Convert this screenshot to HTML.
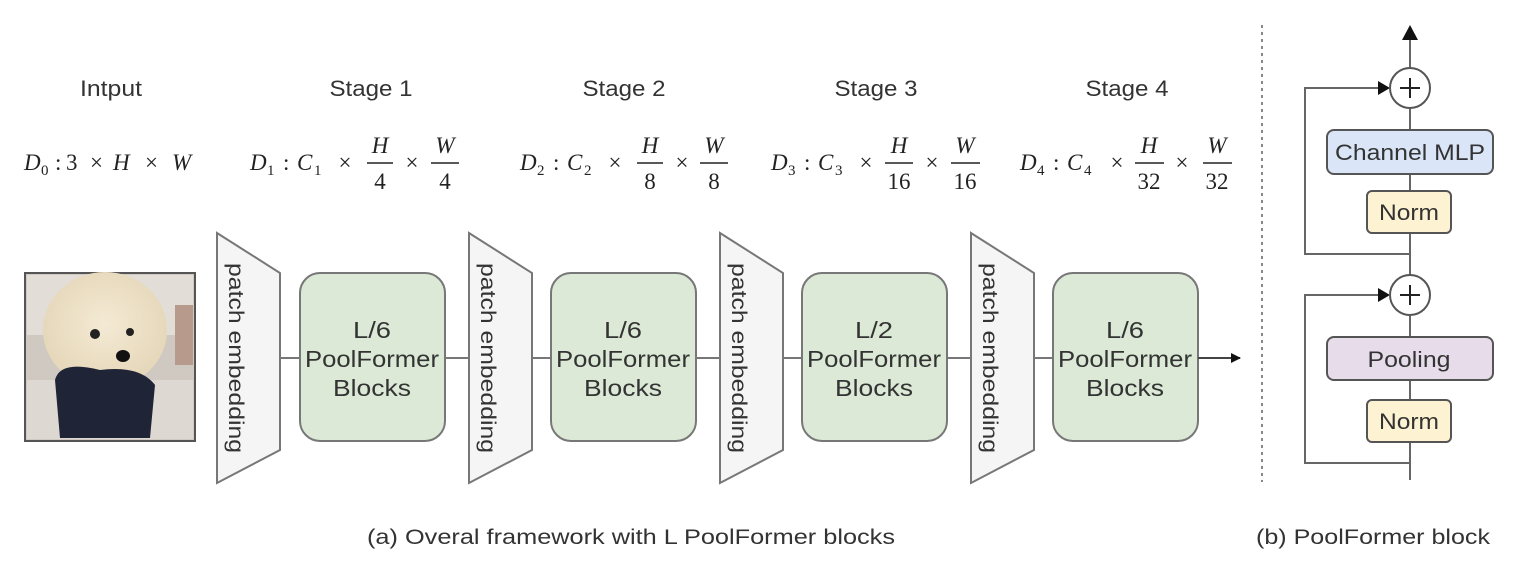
<!DOCTYPE html>
<html><head><meta charset="utf-8"><style>
html,body{margin:0;padding:0;background:#fff;}
svg{display:block;}
.t{font-family:"Liberation Sans",sans-serif;fill:#333;}
.m{font-family:"Liberation Serif",serif;fill:#222;font-size:23px;}
.s{font-size:15px;}
</style></head><body>
<svg width="1531" height="571" viewBox="0 0 1531 571" xmlns="http://www.w3.org/2000/svg">
<defs>
<marker id="ah" markerWidth="10" markerHeight="10" refX="9" refY="5" orient="auto" markerUnits="userSpaceOnUse"><path d="M0,0 L10,5 L0,10 z" fill="#111"/></marker>
<radialGradient id="fur" cx="0.5" cy="0.45" r="0.5"><stop offset="0" stop-color="#f4ead4"/><stop offset="1" stop-color="#e6d8bb"/></radialGradient>
</defs>
<g class="t" font-size="22" text-anchor="middle">
<text x="111" y="96" textLength="62" lengthAdjust="spacingAndGlyphs">Intput</text>
<text x="371" y="96" textLength="83" lengthAdjust="spacingAndGlyphs">Stage 1</text>
<text x="624" y="96" textLength="83" lengthAdjust="spacingAndGlyphs">Stage 2</text>
<text x="876" y="96" textLength="83" lengthAdjust="spacingAndGlyphs">Stage 3</text>
<text x="1127" y="96" textLength="83" lengthAdjust="spacingAndGlyphs">Stage 4</text>
</g>
<g>
<text class="m" x="24" y="170" font-style="italic">D</text><text class="m s" x="41" y="175">0</text>
<text class="m" x="55" y="170">:</text>
<text class="m" x="66" y="170">3</text>
<text class="m" x="90" y="170">×</text>
<text class="m" x="113" y="170" font-style="italic">H</text>
<text class="m" x="145" y="170">×</text>
<text class="m" x="172" y="170" font-style="italic">W</text>
</g>
<g>
<text class="m" x="250" y="170" font-style="italic">D</text><text class="m s" x="267" y="175">1</text>
<text class="m" x="283" y="170">:</text>
<text class="m" x="297" y="170" font-style="italic">C</text><text class="m s" x="314" y="175">1</text>
<text class="m" x="345" y="170" text-anchor="middle">×</text>
<text class="m" x="380" y="153" text-anchor="middle" font-style="italic">H</text><line x1="367" y1="163" x2="393" y2="163" stroke="#222" stroke-width="1.5"/><text class="m" x="380" y="189" text-anchor="middle">4</text>
<text class="m" x="412" y="170" text-anchor="middle">×</text>
<text class="m" x="445" y="153" text-anchor="middle" font-style="italic">W</text><line x1="431" y1="163" x2="459" y2="163" stroke="#222" stroke-width="1.5"/><text class="m" x="445" y="189" text-anchor="middle">4</text>
</g>
<g>
<text class="m" x="520" y="170" font-style="italic">D</text><text class="m s" x="537" y="175">2</text>
<text class="m" x="553" y="170">:</text>
<text class="m" x="567" y="170" font-style="italic">C</text><text class="m s" x="584" y="175">2</text>
<text class="m" x="615" y="170" text-anchor="middle">×</text>
<text class="m" x="650" y="153" text-anchor="middle" font-style="italic">H</text><line x1="637" y1="163" x2="663" y2="163" stroke="#222" stroke-width="1.5"/><text class="m" x="650" y="189" text-anchor="middle">8</text>
<text class="m" x="682" y="170" text-anchor="middle">×</text>
<text class="m" x="714" y="153" text-anchor="middle" font-style="italic">W</text><line x1="700" y1="163" x2="728" y2="163" stroke="#222" stroke-width="1.5"/><text class="m" x="714" y="189" text-anchor="middle">8</text>
</g>
<g>
<text class="m" x="771" y="170" font-style="italic">D</text><text class="m s" x="788" y="175">3</text>
<text class="m" x="804" y="170">:</text>
<text class="m" x="818" y="170" font-style="italic">C</text><text class="m s" x="835" y="175">3</text>
<text class="m" x="866" y="170" text-anchor="middle">×</text>
<text class="m" x="899" y="153" text-anchor="middle" font-style="italic">H</text><line x1="885" y1="163" x2="913" y2="163" stroke="#222" stroke-width="1.5"/><text class="m" x="899" y="189" text-anchor="middle">16</text>
<text class="m" x="932" y="170" text-anchor="middle">×</text>
<text class="m" x="965" y="153" text-anchor="middle" font-style="italic">W</text><line x1="951" y1="163" x2="980" y2="163" stroke="#222" stroke-width="1.5"/><text class="m" x="965" y="189" text-anchor="middle">16</text>
</g>
<g>
<text class="m" x="1020" y="170" font-style="italic">D</text><text class="m s" x="1037" y="175">4</text>
<text class="m" x="1053" y="170">:</text>
<text class="m" x="1067" y="170" font-style="italic">C</text><text class="m s" x="1084" y="175">4</text>
<text class="m" x="1117" y="170" text-anchor="middle">×</text>
<text class="m" x="1149" y="153" text-anchor="middle" font-style="italic">H</text><line x1="1135" y1="163" x2="1164" y2="163" stroke="#222" stroke-width="1.5"/><text class="m" x="1149" y="189" text-anchor="middle">32</text>
<text class="m" x="1182" y="170" text-anchor="middle">×</text>
<text class="m" x="1217" y="153" text-anchor="middle" font-style="italic">W</text><line x1="1203" y1="163" x2="1232" y2="163" stroke="#222" stroke-width="1.5"/><text class="m" x="1217" y="189" text-anchor="middle">32</text>
</g>
<rect x="25" y="273" width="170" height="168" fill="#cfc9c2" stroke="#555" stroke-width="2"/>
<rect x="27" y="275" width="166" height="60" fill="#e2ddd6"/>
<rect x="175" y="305" width="18" height="60" fill="#b89a8c"/>
<rect x="27" y="380" width="166" height="59" fill="#ddd8d2"/>
<ellipse cx="105" cy="330" rx="62" ry="58" fill="url(#fur)"/>
<path d="M55,380 Q60,360 100,370 Q140,365 155,385 L150,438 L60,438 Z" fill="#1f2436"/>
<circle cx="95" cy="334" r="5" fill="#222"/><circle cx="130" cy="332" r="4" fill="#222"/>
<ellipse cx="123" cy="356" rx="7" ry="6" fill="#111"/>
<g stroke="#777" stroke-width="2">
<polygon points="217,233 280,273 280,450 217,483" fill="#f5f5f5"/>
<polygon points="469,233 532,273 532,450 469,483" fill="#f5f5f5"/>
<polygon points="720,233 783,273 783,450 720,483" fill="#f5f5f5"/>
<polygon points="971,233 1034,273 1034,450 971,483" fill="#f5f5f5"/>
<line x1="280" y1="358" x2="300" y2="358"/><line x1="445" y1="358" x2="469" y2="358"/>
<line x1="532" y1="358" x2="551" y2="358"/><line x1="696" y1="358" x2="720" y2="358"/>
<line x1="783" y1="358" x2="802" y2="358"/><line x1="947" y1="358" x2="971" y2="358"/>
<line x1="1034" y1="358" x2="1053" y2="358"/>
<rect x="300" y="273" width="145" height="168" rx="20" fill="#dbe9d6"/>
<rect x="551" y="273" width="145" height="168" rx="20" fill="#dbe9d6"/>
<rect x="802" y="273" width="145" height="168" rx="20" fill="#dbe9d6"/>
<rect x="1053" y="273" width="145" height="168" rx="20" fill="#dbe9d6"/>
</g>
<line x1="1198" y1="358" x2="1240" y2="358" stroke="#444" stroke-width="2" marker-end="url(#ah)"/>
<g class="t" font-size="21">
<text transform="translate(236,358) rotate(90)" text-anchor="middle" dy="7" textLength="190" lengthAdjust="spacingAndGlyphs">patch embedding</text>
<text transform="translate(488,358) rotate(90)" text-anchor="middle" dy="7" textLength="190" lengthAdjust="spacingAndGlyphs">patch embedding</text>
<text transform="translate(739,358) rotate(90)" text-anchor="middle" dy="7" textLength="190" lengthAdjust="spacingAndGlyphs">patch embedding</text>
<text transform="translate(990,358) rotate(90)" text-anchor="middle" dy="7" textLength="190" lengthAdjust="spacingAndGlyphs">patch embedding</text>
</g>
<g class="t" font-size="23" text-anchor="middle">
<text x="372" y="338" textLength="38" lengthAdjust="spacingAndGlyphs">L/6</text><text x="372" y="367" textLength="134" lengthAdjust="spacingAndGlyphs">PoolFormer</text><text x="372" y="396" textLength="78" lengthAdjust="spacingAndGlyphs">Blocks</text>
<text x="623" y="338" textLength="38" lengthAdjust="spacingAndGlyphs">L/6</text><text x="623" y="367" textLength="134" lengthAdjust="spacingAndGlyphs">PoolFormer</text><text x="623" y="396" textLength="78" lengthAdjust="spacingAndGlyphs">Blocks</text>
<text x="874" y="338" textLength="38" lengthAdjust="spacingAndGlyphs">L/2</text><text x="874" y="367" textLength="134" lengthAdjust="spacingAndGlyphs">PoolFormer</text><text x="874" y="396" textLength="78" lengthAdjust="spacingAndGlyphs">Blocks</text>
<text x="1125" y="338" textLength="38" lengthAdjust="spacingAndGlyphs">L/6</text><text x="1125" y="367" textLength="134" lengthAdjust="spacingAndGlyphs">PoolFormer</text><text x="1125" y="396" textLength="78" lengthAdjust="spacingAndGlyphs">Blocks</text>
</g>
<text class="t" x="631" y="544" font-size="21" text-anchor="middle" textLength="528" lengthAdjust="spacingAndGlyphs">(a) Overal framework with L PoolFormer blocks</text>
<line x1="1262" y1="25" x2="1262" y2="482" stroke="#888" stroke-width="2" stroke-dasharray="3,4"/>
<g stroke="#666" stroke-width="2" fill="none">
<line x1="1410" y1="480" x2="1410" y2="316"/>
<line x1="1410" y1="275" x2="1410" y2="108"/>
<line x1="1410" y1="68" x2="1410" y2="36"/>
<polyline points="1410,463 1305,463 1305,295 1388,295"/>
<polyline points="1410,254 1305,254 1305,88 1388,88"/>
</g>
<path d="M1402,40 L1410,25 L1418,40 z" fill="#111"/>
<path d="M1378,81 L1390,88 L1378,95 z" fill="#111"/>
<path d="M1378,288 L1390,295 L1378,302 z" fill="#111"/>
<g stroke="#555" stroke-width="2">
<circle cx="1410" cy="88" r="20" fill="#fff"/>
<circle cx="1410" cy="295" r="20" fill="#fff"/>
<rect x="1327" y="130" width="166" height="44" rx="7" fill="#dae6f7"/>
<rect x="1367" y="191" width="84" height="42" rx="5" fill="#fdf2d2"/>
<rect x="1327" y="337" width="166" height="43" rx="7" fill="#e6dcea"/>
<rect x="1367" y="400" width="84" height="42" rx="5" fill="#fdf2d2"/>
</g>
<g stroke="#222" stroke-width="2"><line x1="1400" y1="88" x2="1420" y2="88"/><line x1="1410" y1="78" x2="1410" y2="98"/><line x1="1400" y1="295" x2="1420" y2="295"/><line x1="1410" y1="285" x2="1410" y2="305"/></g>
<g class="t" font-size="22" text-anchor="middle">
<text x="1410" y="160" textLength="150" lengthAdjust="spacingAndGlyphs">Channel MLP</text>
<text x="1409" y="220" textLength="60" lengthAdjust="spacingAndGlyphs">Norm</text>
<text x="1409" y="367" textLength="83" lengthAdjust="spacingAndGlyphs">Pooling</text>
<text x="1409" y="429" textLength="60" lengthAdjust="spacingAndGlyphs">Norm</text>
</g>
<text class="t" x="1373" y="544" font-size="21" text-anchor="middle" textLength="234" lengthAdjust="spacingAndGlyphs">(b) PoolFormer block</text>
</svg>
</body></html>
